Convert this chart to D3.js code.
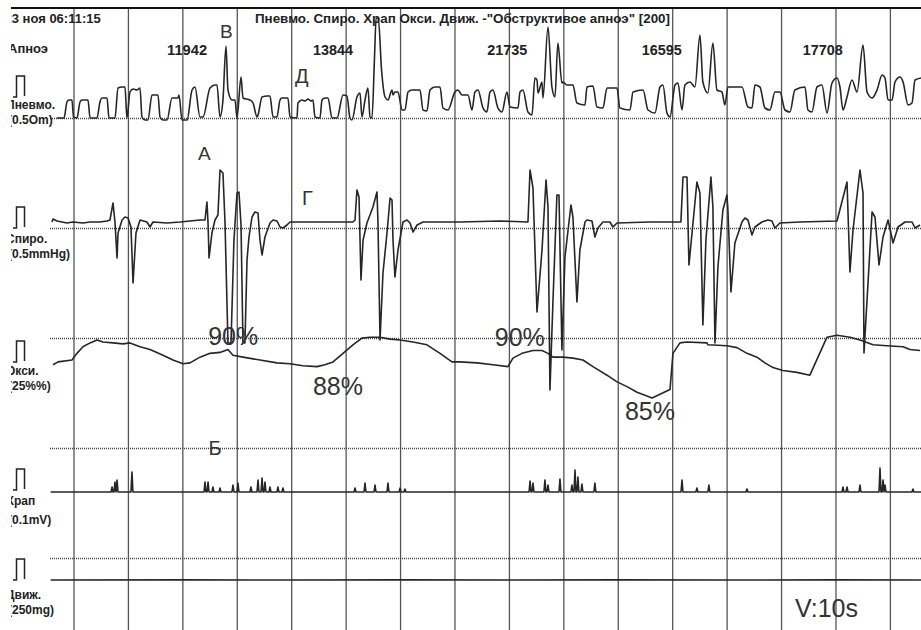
<!DOCTYPE html>
<html><head><meta charset="utf-8">
<script src="https://cdn.jsdelivr.net/npm/d3@7"></script>
<style>html,body{margin:0;padding:0;background:#fff;} svg{display:block;font-family:"Liberation Sans",Arial,sans-serif;}</style>
</head><body>
<svg id="chart" width="921" height="630"></svg>
<script>
// ---------- data ----------
const recordStart = "23 ноя 06:11:15";
const recordTitle = 'Пневмо. Спиро. Храп Окси. Движ. -"Обструктивое апноэ" [200]';
const apneaRowLabel = "Апноэ";
const channelNames = ["Пневмо.", "Спиро.", "Окси.", "Храп", "Движ."];
const channelUnits = ["(0.5Om)", "(0.5mmHg)", "(25%%)", "(0.1mV)", "(250mg)"];
const gridTimes = [0,5,10,15,20,25,30,35,40,45,50,55,60,65,70,75];   // seconds
const gridRows = [0,1,2,3,4];
const apneaLabels = ["11942","13844","21735","16595","17708"];
const apneaTimes = [8.6, 22.0, 38.0, 52.2, 67.0];
const speedLabel = "V:10s";

// Pneumo flow: [time s, amplitude]
const pneumo = [[-1.52,0],[-0.87,0],[-0.60,16],[-0.41,18],[-0.14,18],[0,1],[0.32,0],[0.60,16],[0.78,18],[1.33,18],[1.52,0],[2.16,0],[2.43,16],[2.62,20],[3.08,20],[3.26,0],[3.81,0],[4.09,30],[4.46,31],[4.73,31],[4.91,0],[5.19,26],[5.47,29],[5.83,28],[6.11,30],[6.29,1],[6.57,-2],[6.84,-2],[7.21,23],[7.30,23],[7.76,23],[7.95,1],[8.22,-2],[8.59,-2],[9.05,20],[9.14,20],[9.60,20],[9.69,23],[9.97,-2],[10.43,-2],[10.89,28],[11.16,31],[11.62,1],[11.90,1],[12.54,30],[13.0,33],[13.18,33],[13.46,1],[13.73,18],[14.01,72],[14.19,28],[14.56,18],[14.84,18],[15.02,0],[15.39,41],[15.57,20],[16.21,18],[16.49,15],[16.86,1],[16.95,3],[17.32,21],[17.78,22],[18.05,22],[18.33,1],[18.69,1],[18.97,18],[19.15,20],[19.70,20],[19.89,1],[20.53,0],[20.62,15],[20.99,18],[21.27,17],[21.54,19],[21.82,17],[22.0,18],[22.18,1],[22.64,0],[22.83,18],[23.10,20],[23.38,20],[23.75,0],[24.21,0],[24.76,23],[25.12,22],[25.40,0],[25.58,-2],[26.04,21],[26.32,25],[26.50,1],[26.78,18],[27.05,30],[27.24,1],[27.42,0],[27.65,60],[27.80,100],[28.0,100],[28.30,48],[28.62,21],[28.89,18],[29.26,28],[29.35,23],[29.53,26],[29.81,26],[30.18,8],[30.45,8],[30.73,26],[31.10,28],[31.83,28],[32.11,8],[32.47,7],[32.75,28],[33.21,31],[33.67,31],[33.94,10],[34.40,8],[35.04,26],[35.32,28],[35.69,23],[36.24,23],[36.61,8],[36.88,26],[37.16,28],[37.62,10],[37.98,6],[38.26,26],[38.53,28],[38.99,10],[39.36,6],[39.82,26],[40.10,11],[40.83,10],[41.02,26],[41.29,28],[41.75,6],[42.12,3],[42.39,40],[42.58,38],[42.67,25],[43.04,36],[43.13,20],[43.59,91],[43.95,31],[44.23,21],[44.50,75],[44.87,35],[44.96,36],[45.33,33],[45.88,33],[46.25,15],[46.99,13],[47.17,31],[47.72,32],[48.09,11],[48.64,10],[49.01,30],[49.93,30],[50.20,10],[51.12,8],[51.40,26],[52.32,28],[52.78,8],[53.42,5],[53.88,31],[54.15,33],[54.52,5],[54.80,1],[55.26,33],[55.53,35],[55.90,8],[56.17,33],[56.63,36],[57.09,31],[57.55,83],[57.82,36],[58.28,25],[58.74,75],[59.11,28],[59.57,26],[59.84,13],[60.12,31],[61.41,31],[61.96,11],[62.33,10],[62.60,33],[63.06,31],[63.52,10],[63.98,8],[64.44,26],[64.90,26],[65.36,8],[65.82,6],[66.27,28],[67.20,31],[67.47,8],[67.84,6],[68.30,31],[68.76,33],[69.22,5],[69.68,35],[70.14,40],[70.41,31],[70.69,8],[71.06,21],[71.52,38],[71.98,26],[72.53,73],[72.90,26],[73.36,20],[73.82,28],[74.28,43],[74.55,40],[74.83,18],[75.20,18],[75.47,36],[75.93,41],[76.21,36],[76.67,13],[77.03,15],[77.31,38],[77.86,40]];

// Spiro (effort pressure): [time s, value]
const spiro = [[-1.98,6],[-1.88,9],[-1.52,7],[-0.60,5],[-0.05,6],[0.87,5],[1.52,6],[2.43,6],[3.08,7],[3.35,8],[3.63,25],[3.81,6],[4.00,-30],[4.09,-5],[4.46,8],[4.73,11],[5.01,10],[5.28,1],[5.47,-55],[5.74,-5],[6.11,8],[6.75,6],[7.03,1],[7.30,6],[8.59,5],[9.78,6],[11.62,8],[12.08,8],[12.26,26],[12.36,5],[12.45,-30],[12.72,-5],[13.0,8],[13.27,13],[13.46,58],[13.73,55],[13.92,5],[14.19,-115],[14.47,-115],[14.74,-12],[15.02,35],[15.20,36],[15.39,3],[15.57,-115],[15.75,-115],[15.94,-32],[16.12,-9],[16.40,11],[16.67,16],[16.95,15],[17.13,-12],[17.32,-27],[17.59,-9],[18.05,5],[18.33,8],[18.69,7],[18.97,1],[19.24,0],[19.61,3],[19.89,6],[22.64,6],[25.67,6],[25.86,8],[26.04,38],[26.23,31],[26.41,-52],[26.60,-12],[26.96,5],[27.51,21],[27.88,36],[27.97,6],[28.16,-112],[28.43,-45],[28.80,-5],[29.08,30],[29.26,28],[29.35,-12],[29.53,-49],[29.81,-22],[30.27,6],[30.64,8],[30.92,5],[31.19,-4],[31.56,3],[32.11,6],[35.51,6],[39.17,7],[41.75,6],[41.94,58],[42.21,40],[42.58,-84],[43.04,-22],[43.41,48],[43.59,21],[43.77,-162],[44.05,-72],[44.41,33],[44.60,33],[44.87,-122],[45.15,-29],[45.70,23],[45.88,11],[46.25,-74],[46.52,-22],[46.99,6],[47.17,8],[47.63,7],[47.90,-9],[48.18,0],[48.64,6],[49.28,6],[49.56,1],[49.93,5],[52.96,6],[55.80,6],[55.99,51],[56.36,51],[56.54,-37],[56.91,5],[57.27,46],[57.55,35],[57.82,-97],[58.10,-12],[58.56,51],[58.74,21],[58.93,-115],[59.20,-39],[59.66,18],[60.03,33],[60.12,18],[60.40,-64],[60.76,-15],[61.41,6],[61.68,10],[61.96,8],[62.33,-7],[62.60,1],[63.24,6],[63.80,8],[64.16,7],[64.44,0],[64.90,5],[66.73,6],[70.14,7],[71.06,46],[71.33,-44],[71.61,-2],[72.25,58],[72.53,35],[72.62,-125],[72.99,-55],[73.36,16],[73.63,11],[74.00,-37],[74.37,-9],[74.83,8],[75.29,-15],[75.75,1],[76.39,6],[77.03,6],[77.31,0],[77.77,3]];

// SpO2 %: [time s, %]
const oxi = [[-1.88,88.5],[-1.42,88.8],[-0.14,89.0],[0.32,89.7],[0.87,90.4],[1.52,90.8],[2.16,91.1],[2.71,90.9],[3.63,90.8],[4.55,90.7],[5.19,90.8],[6.11,90.4],[7.03,90.1],[8.22,89.5],[9.14,89.0],[10.06,88.6],[10.70,88.7],[11.62,89.3],[12.54,89.7],[13.46,89.8],[14.19,90.1],[14.65,89.5],[15.57,89.3],[17.13,89.0],[18.69,88.7],[19.89,88.6],[21.08,88.4],[22.37,88.3],[23.10,88.5],[23.84,88.8],[24.76,89.7],[25.67,90.6],[26.50,91.3],[27.24,91.4],[28.16,91.4],[29.08,91.2],[30.0,91.1],[31.19,90.9],[32.47,90.6],[33.67,89.7],[34.77,88.8],[35.51,88.8],[37.07,88.7],[38.54,88.5],[39.92,88.3],[40.37,89.2],[41.20,89.7],[42.21,90.0],[43.04,90.0],[43.59,89.7],[44.05,89.3],[44.96,89.3],[45.88,89.2],[46.80,89.0],[47.72,88.3],[49.01,87.4],[49.93,86.7],[50.85,86.2],[51.77,85.6],[53.15,85.0],[54.07,85.5],[54.80,85.9],[55.07,89.7],[55.71,90.8],[56.36,90.9],[58.19,90.8],[58.28,90.6],[60.03,90.5],[60.95,90.3],[61.87,89.7],[62.79,89.3],[63.52,88.7],[64.26,88.2],[65.17,87.9],[66.46,87.7],[67.65,87.4],[69.22,91.4],[70.14,91.6],[71.33,91.4],[72.25,91.1],[73.45,90.6],[74.73,90.5],[76.20,90.4],[76.85,90.1],[77.77,90.0]];

// Snore bursts: [time s, amplitude]
const snoreSpikes = [[3.54,5],[3.81,10],[4.0,12],[5.37,20],[12.08,10],[12.36,10],[12.81,5],[13.46,4],[14.65,7],[15.11,9],[16.3,5],[16.95,12],[17.32,14],[17.59,10],[18.05,5],[18.78,5],[19.24,4],[25.86,4],[26.78,9],[27.70,7],[28.89,9],[30.0,4],[30.45,3],[41.94,11],[42.21,9],[43.31,12],[43.59,7],[44.69,13],[45.79,7],[46.07,22],[46.34,15],[46.71,8],[47.90,9],[55.90,12],[57.27,4],[58.37,7],[61.87,3],[70.69,5],[71.06,5],[72.25,7],[74.09,24],[74.37,12],[74.55,7],[77.12,3]];

// Body movement
const motion = [[-2.1,0],[10,0.1],[20,0],[30,0.1],[40,0],[50,0.1],[60,0],[70,0.1],[77.9,0]];

// ---------- drawing ----------
const svg = d3.select("#chart");
const defs = svg.append("defs");
defs.append("clipPath").attr("id","pageClip").append("rect")
  .attr("x",11).attr("y",0).attr("width",910).attr("height",630);
const root = svg.append("g").attr("clip-path","url(#pageClip)");

const x = d3.scaleLinear().domain([0,75]).range([73.5, 889.9]);
const rowY = d3.scaleLinear().domain([0,4]).range([118,558]);
const pneumoY = d3.scaleLinear().domain([0,100]).range([118,18]);
const spiroY = d3.scaleLinear().domain([0,100]).range([228,128]);
const oxiY = d3.scaleLinear().domain([85,90]).range([398,350.5]);
const snoreY = d3.scaleLinear().domain([0,100]).range([492,392]);
const motionY = d3.scaleLinear().domain([0,10]).range([580,570]);

// vertical grid (5 s lines, full height)
const vg = root.append("g").attr("transform","translate(0,8)")
  .call(d3.axisBottom(x).tickValues(gridTimes).tickSize(622).tickFormat(""));
vg.select(".domain").remove();
vg.selectAll(".tick line").attr("stroke","#555").attr("stroke-width",1.3);

// horizontal dotted grid
const hg = root.append("g").attr("transform","translate(921,0)")
  .call(d3.axisLeft(rowY).tickValues(gridRows).tickSize(871).tickFormat(""));
hg.select(".domain").remove();
hg.selectAll(".tick line").attr("stroke","#444").attr("stroke-width",1.3).attr("stroke-dasharray","1,1");

// top border line
root.append("line").attr("x1",0).attr("x2",921).attr("y1",8).attr("y2",8)
  .attr("stroke","#111").attr("stroke-width",2);

const traceColor = "#262626";
function trace(data, yScale, width, curve){
  root.append("path").datum(data)
    .attr("fill","none").attr("stroke",traceColor).attr("stroke-width",width)
    .attr("stroke-linejoin","round")
    .attr("d", d3.line().x(d=>x(d[0])).y(d=>yScale(d[1])).curve(curve||d3.curveLinear));
}
trace(pneumo, pneumoY, 1.6, d3.curveMonotoneX);
trace(spiro, spiroY, 1.6);
trace(oxi, oxiY, 1.6);
trace(motion, motionY, 1.6);

// snore: baseline plus bursts
const snorePts = [[-2.1,0]];
snoreSpikes.forEach(s => { snorePts.push([s[0]-0.09,0],[s[0],s[1]],[s[0]+0.09,0]); });
snorePts.push([77.9,0]);
trace(snorePts, snoreY, 1.6);

// ---------- texts ----------
const txt = (xx, yy, s, size, weight, extra) => {
  const t = root.append("text").attr("x",xx).attr("y",yy).text(s)
    .attr("font-size",size).attr("font-weight",weight||"normal").attr("fill","#222");
  if (extra) extra(t);
  return t;
};
txt(4.5, 22.5, recordStart, 13, "bold");
txt(255, 22.5, recordTitle, 13, "bold", t=>t.attr("textLength",415).attr("lengthAdjust","spacingAndGlyphs"));
txt(8, 53, apneaRowLabel, 13, "bold");
apneaLabels.forEach((s,i)=> txt(x(apneaTimes[i]), 55, s, 14, "bold", t=>t.attr("textLength",40).attr("lengthAdjust","spacingAndGlyphs")));

// channel labels and calibration pulses
const labelLayout = [
  {pulseBase: 97, nameY: 109, unitY: 124},
  {pulseBase: 228, nameY: 243, unitY: 258},
  {pulseBase: 362, nameY: 375, unitY: 390},
  {pulseBase: 490, nameY: 505, unitY: 524},
  {pulseBase: 580, nameY: 599, unitY: 614}
];
labelLayout.forEach((L,i)=>{
  root.append("path")
    .attr("d", `M13,${L.pulseBase} H16.5 V${L.pulseBase-21} H24.5 V${L.pulseBase-1}`)
    .attr("fill","none").attr("stroke","#222").attr("stroke-width",1.5);
  txt(6, L.nameY, channelNames[i], 12, "bold");
  txt(8, L.unitY, channelUnits[i], 12, "bold");
});

// event annotations
const annColor = "#333";
const ann = (xx, yy, s, size) => root.append("text").attr("x",xx).attr("y",yy).text(s)
  .attr("font-size",size).attr("fill",annColor);
ann(x(13.46), pneumoY(80), "В", 19);
ann(x(20.35), pneumoY(35), "Д", 20);
ann(x(11.44), spiroY(68), "А", 19);
ann(x(21.0), spiroY(23), "Г", 20);
ann(x(12.4), snoreY(37), "Б", 20);
ann(x(12.37), oxiY(90.58), "90%", 25);
ann(x(22.0), oxiY(85.32), "88%", 25);
ann(x(38.7), oxiY(90.47), "90%", 25);
ann(x(50.66), oxiY(82.68), "85%", 25);
ann(x(66.28), 617, speedLabel, 25);
</script>
</body></html>
